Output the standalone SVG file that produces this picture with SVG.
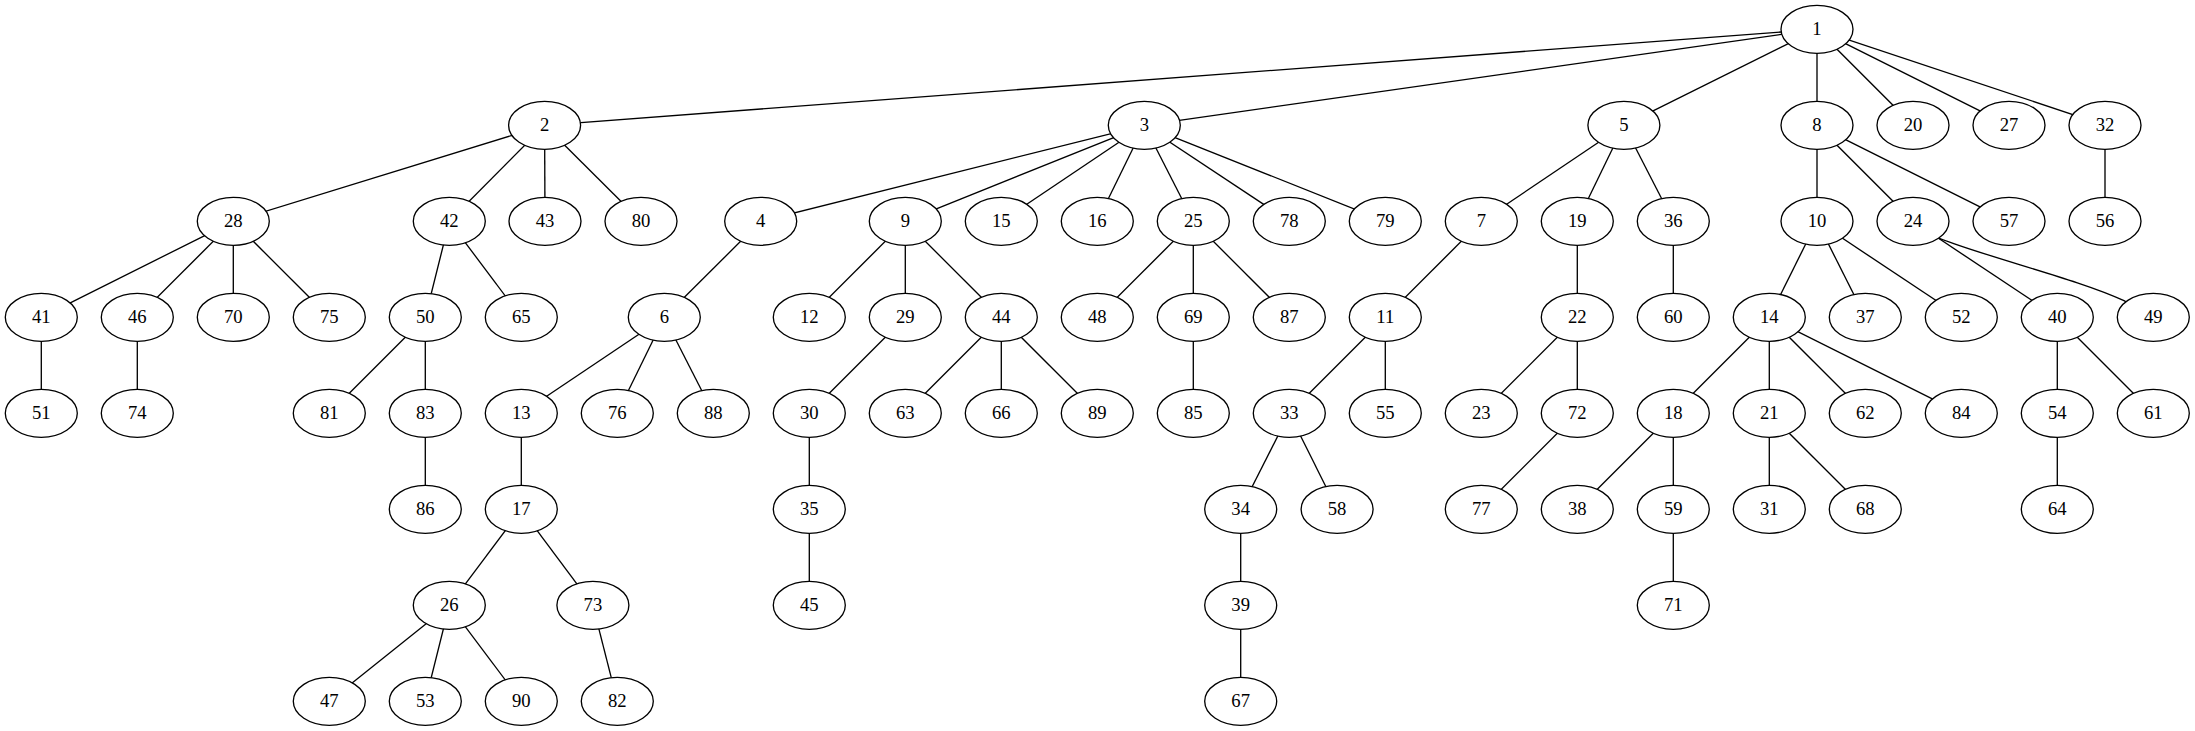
<svg xmlns="http://www.w3.org/2000/svg" width="2195" height="731" viewBox="0 0 2195 731">
<style>
.e line, .e path { stroke: #000; stroke-width: 1.33; fill: none; }
.n ellipse { fill: #fff; stroke: #000; stroke-width: 1.33; }
.n text { font-family: "Liberation Serif", "Times New Roman", serif; font-size: 18.67px; text-anchor: middle; fill: #000; }
</style>
<rect width="2195" height="731" fill="#fff"/>
<g id="edges" class="e">
<line x1="1817" y1="29.3" x2="544.6" y2="125.3"/>
<line x1="1817" y1="29.3" x2="1144.3" y2="125.3"/>
<line x1="1817" y1="29.3" x2="1623.9" y2="125.3"/>
<line x1="1817" y1="29.3" x2="1817" y2="125.3"/>
<line x1="1817" y1="29.3" x2="1913" y2="125.3"/>
<line x1="1817" y1="29.3" x2="2009" y2="125.3"/>
<line x1="1817" y1="29.3" x2="2105" y2="125.3"/>
<line x1="544.6" y1="125.3" x2="233.3" y2="221.3"/>
<line x1="544.6" y1="125.3" x2="449.3" y2="221.3"/>
<line x1="544.6" y1="125.3" x2="545" y2="221.3"/>
<line x1="544.6" y1="125.3" x2="641" y2="221.3"/>
<line x1="1144.3" y1="125.3" x2="760.7" y2="221.3"/>
<line x1="1144.3" y1="125.3" x2="905.3" y2="221.3"/>
<line x1="1144.3" y1="125.3" x2="1001.3" y2="221.3"/>
<line x1="1144.3" y1="125.3" x2="1097.3" y2="221.3"/>
<line x1="1144.3" y1="125.3" x2="1193.3" y2="221.3"/>
<line x1="1144.3" y1="125.3" x2="1289.3" y2="221.3"/>
<line x1="1144.3" y1="125.3" x2="1385.3" y2="221.3"/>
<line x1="1623.9" y1="125.3" x2="1481.3" y2="221.3"/>
<line x1="1623.9" y1="125.3" x2="1577.3" y2="221.3"/>
<line x1="1623.9" y1="125.3" x2="1673.3" y2="221.3"/>
<line x1="1817" y1="125.3" x2="1817" y2="221.3"/>
<line x1="1817" y1="125.3" x2="1913" y2="221.3"/>
<line x1="1817" y1="125.3" x2="2009" y2="221.3"/>
<line x1="2105" y1="125.3" x2="2105" y2="221.3"/>
<line x1="233.3" y1="221.3" x2="41.3" y2="317.3"/>
<line x1="233.3" y1="221.3" x2="137.3" y2="317.3"/>
<line x1="233.3" y1="221.3" x2="233.3" y2="317.3"/>
<line x1="233.3" y1="221.3" x2="329.3" y2="317.3"/>
<line x1="449.3" y1="221.3" x2="425.3" y2="317.3"/>
<line x1="449.3" y1="221.3" x2="521.3" y2="317.3"/>
<line x1="760.7" y1="221.3" x2="664.3" y2="317.3"/>
<line x1="905.3" y1="221.3" x2="809.3" y2="317.3"/>
<line x1="905.3" y1="221.3" x2="905.3" y2="317.3"/>
<line x1="905.3" y1="221.3" x2="1001.3" y2="317.3"/>
<line x1="1193.3" y1="221.3" x2="1097.3" y2="317.3"/>
<line x1="1193.3" y1="221.3" x2="1193.3" y2="317.3"/>
<line x1="1193.3" y1="221.3" x2="1289.3" y2="317.3"/>
<line x1="1481.3" y1="221.3" x2="1385.3" y2="317.3"/>
<line x1="1577.3" y1="221.3" x2="1577.3" y2="317.3"/>
<line x1="1673.3" y1="221.3" x2="1673.3" y2="317.3"/>
<line x1="1817" y1="221.3" x2="1769.3" y2="317.3"/>
<line x1="1817" y1="221.3" x2="1865.3" y2="317.3"/>
<line x1="1817" y1="221.3" x2="1961.3" y2="317.3"/>
<line x1="1913" y1="221.3" x2="2057.3" y2="317.3"/>
<path d="M1913,221.3 L1939.3,238.3 C1990,258 2080,280 2124,300.7 L2153.3,317.3"/>
<line x1="41.3" y1="317.3" x2="41.3" y2="413.3"/>
<line x1="137.3" y1="317.3" x2="137.3" y2="413.3"/>
<line x1="425.3" y1="317.3" x2="329.3" y2="413.3"/>
<line x1="425.3" y1="317.3" x2="425.3" y2="413.3"/>
<line x1="664.3" y1="317.3" x2="521.3" y2="413.3"/>
<line x1="664.3" y1="317.3" x2="617.3" y2="413.3"/>
<line x1="664.3" y1="317.3" x2="713.3" y2="413.3"/>
<line x1="905.3" y1="317.3" x2="809.3" y2="413.3"/>
<line x1="1001.3" y1="317.3" x2="905.3" y2="413.3"/>
<line x1="1001.3" y1="317.3" x2="1001.3" y2="413.3"/>
<line x1="1001.3" y1="317.3" x2="1097.3" y2="413.3"/>
<line x1="1193.3" y1="317.3" x2="1193.3" y2="413.3"/>
<line x1="1385.3" y1="317.3" x2="1289.3" y2="413.3"/>
<line x1="1385.3" y1="317.3" x2="1385.3" y2="413.3"/>
<line x1="1577.3" y1="317.3" x2="1481.3" y2="413.3"/>
<line x1="1577.3" y1="317.3" x2="1577.3" y2="413.3"/>
<line x1="1769.3" y1="317.3" x2="1673.3" y2="413.3"/>
<line x1="1769.3" y1="317.3" x2="1769.3" y2="413.3"/>
<line x1="1769.3" y1="317.3" x2="1865.3" y2="413.3"/>
<line x1="1769.3" y1="317.3" x2="1961.3" y2="413.3"/>
<line x1="2057.3" y1="317.3" x2="2057.3" y2="413.3"/>
<line x1="2057.3" y1="317.3" x2="2153.3" y2="413.3"/>
<line x1="425.3" y1="413.3" x2="425.3" y2="509.3"/>
<line x1="521.3" y1="413.3" x2="521.3" y2="509.3"/>
<line x1="809.3" y1="413.3" x2="809.3" y2="509.3"/>
<line x1="1289.3" y1="413.3" x2="1240.7" y2="509.3"/>
<line x1="1289.3" y1="413.3" x2="1337.1" y2="509.3"/>
<line x1="1577.3" y1="413.3" x2="1481.3" y2="509.3"/>
<line x1="1673.3" y1="413.3" x2="1577.3" y2="509.3"/>
<line x1="1673.3" y1="413.3" x2="1673.3" y2="509.3"/>
<line x1="1769.3" y1="413.3" x2="1769.3" y2="509.3"/>
<line x1="1769.3" y1="413.3" x2="1865.3" y2="509.3"/>
<line x1="2057.3" y1="413.3" x2="2057.3" y2="509.3"/>
<line x1="521.3" y1="509.3" x2="449.3" y2="605.3"/>
<line x1="521.3" y1="509.3" x2="592.9" y2="605.3"/>
<line x1="809.3" y1="509.3" x2="809.3" y2="605.3"/>
<line x1="1240.7" y1="509.3" x2="1240.7" y2="605.3"/>
<line x1="1673.3" y1="509.3" x2="1673.3" y2="605.3"/>
<line x1="449.3" y1="605.3" x2="329.3" y2="701.3"/>
<line x1="449.3" y1="605.3" x2="425.3" y2="701.3"/>
<line x1="449.3" y1="605.3" x2="521.3" y2="701.3"/>
<line x1="592.9" y1="605.3" x2="617.3" y2="701.3"/>
<line x1="1240.7" y1="605.3" x2="1240.7" y2="701.3"/>
</g>
<g class="n">
<g id="node1"><ellipse cx="1817" cy="29.3" rx="36" ry="24"/><text x="1817" y="34.6">1</text></g>
<g id="node2"><ellipse cx="544.6" cy="125.3" rx="36" ry="24"/><text x="544.6" y="130.6">2</text></g>
<g id="node3"><ellipse cx="1144.3" cy="125.3" rx="36" ry="24"/><text x="1144.3" y="130.6">3</text></g>
<g id="node5"><ellipse cx="1623.9" cy="125.3" rx="36" ry="24"/><text x="1623.9" y="130.6">5</text></g>
<g id="node8"><ellipse cx="1817" cy="125.3" rx="36" ry="24"/><text x="1817" y="130.6">8</text></g>
<g id="node20"><ellipse cx="1913" cy="125.3" rx="36" ry="24"/><text x="1913" y="130.6">20</text></g>
<g id="node27"><ellipse cx="2009" cy="125.3" rx="36" ry="24"/><text x="2009" y="130.6">27</text></g>
<g id="node32"><ellipse cx="2105" cy="125.3" rx="36" ry="24"/><text x="2105" y="130.6">32</text></g>
<g id="node28"><ellipse cx="233.3" cy="221.3" rx="36" ry="24"/><text x="233.3" y="226.6">28</text></g>
<g id="node42"><ellipse cx="449.3" cy="221.3" rx="36" ry="24"/><text x="449.3" y="226.6">42</text></g>
<g id="node43"><ellipse cx="545" cy="221.3" rx="36" ry="24"/><text x="545" y="226.6">43</text></g>
<g id="node80"><ellipse cx="641" cy="221.3" rx="36" ry="24"/><text x="641" y="226.6">80</text></g>
<g id="node4"><ellipse cx="760.7" cy="221.3" rx="36" ry="24"/><text x="760.7" y="226.6">4</text></g>
<g id="node9"><ellipse cx="905.3" cy="221.3" rx="36" ry="24"/><text x="905.3" y="226.6">9</text></g>
<g id="node15"><ellipse cx="1001.3" cy="221.3" rx="36" ry="24"/><text x="1001.3" y="226.6">15</text></g>
<g id="node16"><ellipse cx="1097.3" cy="221.3" rx="36" ry="24"/><text x="1097.3" y="226.6">16</text></g>
<g id="node25"><ellipse cx="1193.3" cy="221.3" rx="36" ry="24"/><text x="1193.3" y="226.6">25</text></g>
<g id="node78"><ellipse cx="1289.3" cy="221.3" rx="36" ry="24"/><text x="1289.3" y="226.6">78</text></g>
<g id="node79"><ellipse cx="1385.3" cy="221.3" rx="36" ry="24"/><text x="1385.3" y="226.6">79</text></g>
<g id="node7"><ellipse cx="1481.3" cy="221.3" rx="36" ry="24"/><text x="1481.3" y="226.6">7</text></g>
<g id="node19"><ellipse cx="1577.3" cy="221.3" rx="36" ry="24"/><text x="1577.3" y="226.6">19</text></g>
<g id="node36"><ellipse cx="1673.3" cy="221.3" rx="36" ry="24"/><text x="1673.3" y="226.6">36</text></g>
<g id="node10"><ellipse cx="1817" cy="221.3" rx="36" ry="24"/><text x="1817" y="226.6">10</text></g>
<g id="node24"><ellipse cx="1913" cy="221.3" rx="36" ry="24"/><text x="1913" y="226.6">24</text></g>
<g id="node57"><ellipse cx="2009" cy="221.3" rx="36" ry="24"/><text x="2009" y="226.6">57</text></g>
<g id="node56"><ellipse cx="2105" cy="221.3" rx="36" ry="24"/><text x="2105" y="226.6">56</text></g>
<g id="node41"><ellipse cx="41.3" cy="317.3" rx="36" ry="24"/><text x="41.3" y="322.6">41</text></g>
<g id="node46"><ellipse cx="137.3" cy="317.3" rx="36" ry="24"/><text x="137.3" y="322.6">46</text></g>
<g id="node70"><ellipse cx="233.3" cy="317.3" rx="36" ry="24"/><text x="233.3" y="322.6">70</text></g>
<g id="node75"><ellipse cx="329.3" cy="317.3" rx="36" ry="24"/><text x="329.3" y="322.6">75</text></g>
<g id="node50"><ellipse cx="425.3" cy="317.3" rx="36" ry="24"/><text x="425.3" y="322.6">50</text></g>
<g id="node65"><ellipse cx="521.3" cy="317.3" rx="36" ry="24"/><text x="521.3" y="322.6">65</text></g>
<g id="node6"><ellipse cx="664.3" cy="317.3" rx="36" ry="24"/><text x="664.3" y="322.6">6</text></g>
<g id="node12"><ellipse cx="809.3" cy="317.3" rx="36" ry="24"/><text x="809.3" y="322.6">12</text></g>
<g id="node29"><ellipse cx="905.3" cy="317.3" rx="36" ry="24"/><text x="905.3" y="322.6">29</text></g>
<g id="node44"><ellipse cx="1001.3" cy="317.3" rx="36" ry="24"/><text x="1001.3" y="322.6">44</text></g>
<g id="node48"><ellipse cx="1097.3" cy="317.3" rx="36" ry="24"/><text x="1097.3" y="322.6">48</text></g>
<g id="node69"><ellipse cx="1193.3" cy="317.3" rx="36" ry="24"/><text x="1193.3" y="322.6">69</text></g>
<g id="node87"><ellipse cx="1289.3" cy="317.3" rx="36" ry="24"/><text x="1289.3" y="322.6">87</text></g>
<g id="node11"><ellipse cx="1385.3" cy="317.3" rx="36" ry="24"/><text x="1385.3" y="322.6">11</text></g>
<g id="node22"><ellipse cx="1577.3" cy="317.3" rx="36" ry="24"/><text x="1577.3" y="322.6">22</text></g>
<g id="node60"><ellipse cx="1673.3" cy="317.3" rx="36" ry="24"/><text x="1673.3" y="322.6">60</text></g>
<g id="node14"><ellipse cx="1769.3" cy="317.3" rx="36" ry="24"/><text x="1769.3" y="322.6">14</text></g>
<g id="node37"><ellipse cx="1865.3" cy="317.3" rx="36" ry="24"/><text x="1865.3" y="322.6">37</text></g>
<g id="node52"><ellipse cx="1961.3" cy="317.3" rx="36" ry="24"/><text x="1961.3" y="322.6">52</text></g>
<g id="node40"><ellipse cx="2057.3" cy="317.3" rx="36" ry="24"/><text x="2057.3" y="322.6">40</text></g>
<g id="node49"><ellipse cx="2153.3" cy="317.3" rx="36" ry="24"/><text x="2153.3" y="322.6">49</text></g>
<g id="node51"><ellipse cx="41.3" cy="413.3" rx="36" ry="24"/><text x="41.3" y="418.6">51</text></g>
<g id="node74"><ellipse cx="137.3" cy="413.3" rx="36" ry="24"/><text x="137.3" y="418.6">74</text></g>
<g id="node81"><ellipse cx="329.3" cy="413.3" rx="36" ry="24"/><text x="329.3" y="418.6">81</text></g>
<g id="node83"><ellipse cx="425.3" cy="413.3" rx="36" ry="24"/><text x="425.3" y="418.6">83</text></g>
<g id="node13"><ellipse cx="521.3" cy="413.3" rx="36" ry="24"/><text x="521.3" y="418.6">13</text></g>
<g id="node76"><ellipse cx="617.3" cy="413.3" rx="36" ry="24"/><text x="617.3" y="418.6">76</text></g>
<g id="node88"><ellipse cx="713.3" cy="413.3" rx="36" ry="24"/><text x="713.3" y="418.6">88</text></g>
<g id="node30"><ellipse cx="809.3" cy="413.3" rx="36" ry="24"/><text x="809.3" y="418.6">30</text></g>
<g id="node63"><ellipse cx="905.3" cy="413.3" rx="36" ry="24"/><text x="905.3" y="418.6">63</text></g>
<g id="node66"><ellipse cx="1001.3" cy="413.3" rx="36" ry="24"/><text x="1001.3" y="418.6">66</text></g>
<g id="node89"><ellipse cx="1097.3" cy="413.3" rx="36" ry="24"/><text x="1097.3" y="418.6">89</text></g>
<g id="node85"><ellipse cx="1193.3" cy="413.3" rx="36" ry="24"/><text x="1193.3" y="418.6">85</text></g>
<g id="node33"><ellipse cx="1289.3" cy="413.3" rx="36" ry="24"/><text x="1289.3" y="418.6">33</text></g>
<g id="node55"><ellipse cx="1385.3" cy="413.3" rx="36" ry="24"/><text x="1385.3" y="418.6">55</text></g>
<g id="node23"><ellipse cx="1481.3" cy="413.3" rx="36" ry="24"/><text x="1481.3" y="418.6">23</text></g>
<g id="node72"><ellipse cx="1577.3" cy="413.3" rx="36" ry="24"/><text x="1577.3" y="418.6">72</text></g>
<g id="node18"><ellipse cx="1673.3" cy="413.3" rx="36" ry="24"/><text x="1673.3" y="418.6">18</text></g>
<g id="node21"><ellipse cx="1769.3" cy="413.3" rx="36" ry="24"/><text x="1769.3" y="418.6">21</text></g>
<g id="node62"><ellipse cx="1865.3" cy="413.3" rx="36" ry="24"/><text x="1865.3" y="418.6">62</text></g>
<g id="node84"><ellipse cx="1961.3" cy="413.3" rx="36" ry="24"/><text x="1961.3" y="418.6">84</text></g>
<g id="node54"><ellipse cx="2057.3" cy="413.3" rx="36" ry="24"/><text x="2057.3" y="418.6">54</text></g>
<g id="node61"><ellipse cx="2153.3" cy="413.3" rx="36" ry="24"/><text x="2153.3" y="418.6">61</text></g>
<g id="node86"><ellipse cx="425.3" cy="509.3" rx="36" ry="24"/><text x="425.3" y="514.6">86</text></g>
<g id="node17"><ellipse cx="521.3" cy="509.3" rx="36" ry="24"/><text x="521.3" y="514.6">17</text></g>
<g id="node35"><ellipse cx="809.3" cy="509.3" rx="36" ry="24"/><text x="809.3" y="514.6">35</text></g>
<g id="node34"><ellipse cx="1240.7" cy="509.3" rx="36" ry="24"/><text x="1240.7" y="514.6">34</text></g>
<g id="node58"><ellipse cx="1337.1" cy="509.3" rx="36" ry="24"/><text x="1337.1" y="514.6">58</text></g>
<g id="node77"><ellipse cx="1481.3" cy="509.3" rx="36" ry="24"/><text x="1481.3" y="514.6">77</text></g>
<g id="node38"><ellipse cx="1577.3" cy="509.3" rx="36" ry="24"/><text x="1577.3" y="514.6">38</text></g>
<g id="node59"><ellipse cx="1673.3" cy="509.3" rx="36" ry="24"/><text x="1673.3" y="514.6">59</text></g>
<g id="node31"><ellipse cx="1769.3" cy="509.3" rx="36" ry="24"/><text x="1769.3" y="514.6">31</text></g>
<g id="node68"><ellipse cx="1865.3" cy="509.3" rx="36" ry="24"/><text x="1865.3" y="514.6">68</text></g>
<g id="node64"><ellipse cx="2057.3" cy="509.3" rx="36" ry="24"/><text x="2057.3" y="514.6">64</text></g>
<g id="node26"><ellipse cx="449.3" cy="605.3" rx="36" ry="24"/><text x="449.3" y="610.6">26</text></g>
<g id="node73"><ellipse cx="592.9" cy="605.3" rx="36" ry="24"/><text x="592.9" y="610.6">73</text></g>
<g id="node45"><ellipse cx="809.3" cy="605.3" rx="36" ry="24"/><text x="809.3" y="610.6">45</text></g>
<g id="node39"><ellipse cx="1240.7" cy="605.3" rx="36" ry="24"/><text x="1240.7" y="610.6">39</text></g>
<g id="node71"><ellipse cx="1673.3" cy="605.3" rx="36" ry="24"/><text x="1673.3" y="610.6">71</text></g>
<g id="node47"><ellipse cx="329.3" cy="701.3" rx="36" ry="24"/><text x="329.3" y="706.6">47</text></g>
<g id="node53"><ellipse cx="425.3" cy="701.3" rx="36" ry="24"/><text x="425.3" y="706.6">53</text></g>
<g id="node90"><ellipse cx="521.3" cy="701.3" rx="36" ry="24"/><text x="521.3" y="706.6">90</text></g>
<g id="node82"><ellipse cx="617.3" cy="701.3" rx="36" ry="24"/><text x="617.3" y="706.6">82</text></g>
<g id="node67"><ellipse cx="1240.7" cy="701.3" rx="36" ry="24"/><text x="1240.7" y="706.6">67</text></g>
</g>
</svg>
